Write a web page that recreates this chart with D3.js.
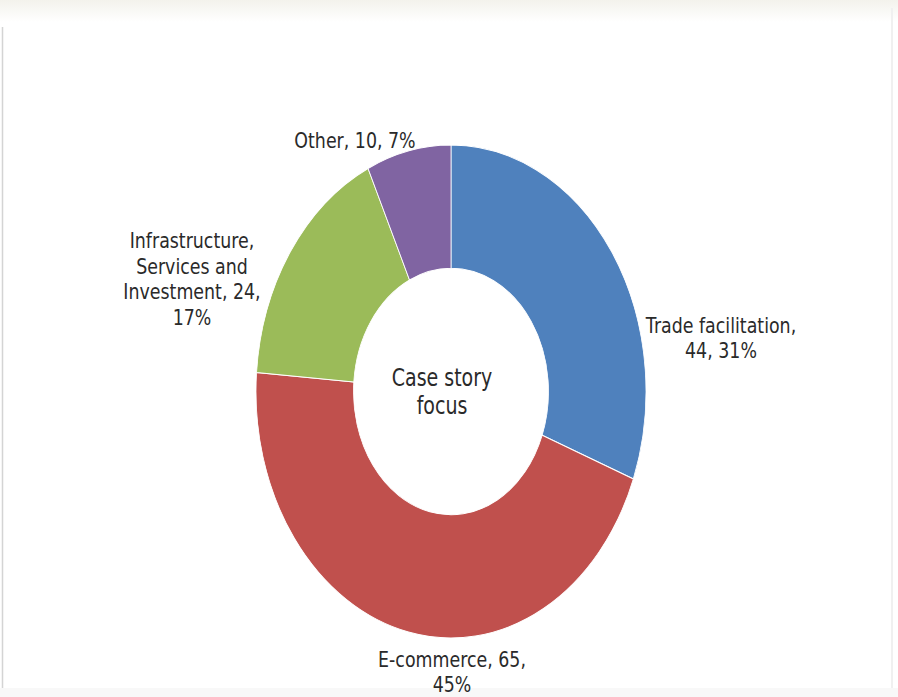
<!DOCTYPE html>
<html>
<head>
<meta charset="utf-8">
<script src="https://cdn.jsdelivr.net/npm/d3@7"></script>
<style>
  html, body { margin: 0; padding: 0; background: #ffffff; }
  svg { display: block; }
  text { font-family: "DejaVu Sans", Verdana, sans-serif; fill: #2a2a2a; }
</style>
</head>
<body>
<svg id="chart" width="898" height="697"></svg>
<script>
// Case story focus by category
const categories = ["Trade facilitation", "E-commerce", "Infrastructure, Services and Investment", "Other"];
const counts = [44, 65, 24, 10];
const percents = ["31%", "45%", "17%", "7%"];
const colors = ["#4f81bd", "#c0504d", "#9bbb59", "#8064a2"];

const W = 898, H = 697;
const svg = d3.select("#chart");

// page frame
svg.append("rect").attr("x", 0).attr("y", 0).attr("width", W).attr("height", H).attr("fill", "#ffffff");
const topGrad = svg.append("defs").append("linearGradient")
  .attr("id", "topfade").attr("x1", 0).attr("y1", 0).attr("x2", 0).attr("y2", 1);
topGrad.append("stop").attr("offset", 0).attr("stop-color", "#f3f2ec");
topGrad.append("stop").attr("offset", 1).attr("stop-color", "#ffffff");
svg.append("rect").attr("x", 0).attr("y", 0).attr("width", W).attr("height", 22).attr("fill", "url(#topfade)");
svg.append("line").attr("x1", 2.5).attr("x2", 2.5).attr("y1", 27).attr("y2", H)
  .attr("stroke", "#d4d4d4").attr("stroke-width", 1.5);
svg.append("line").attr("x1", 892).attr("x2", 892).attr("y1", 8).attr("y2", H)
  .attr("stroke", "#f0f0f0").attr("stroke-width", 2);
svg.append("rect").attr("x", 0).attr("y", 688).attr("width", W).attr("height", 9).attr("fill", "#f8f8f8");

// the whole plot is drawn stretched vertically
const k = 1.264;
const cx = 451, cy = 391.5;
const R = 195, r = R * 0.5;

const plot = svg.append("g").attr("transform", `scale(1,${k})`);

const pie = d3.pie().sort(null).value(d => d)(counts);
const arc = d3.arc().innerRadius(r).outerRadius(R);

plot.append("g")
  .attr("transform", `translate(${cx},${cy / k})`)
  .selectAll("path")
  .data(pie)
  .join("path")
  .attr("d", arc)
  .attr("fill", (d, i) => colors[i])
  .attr("stroke", "#ffffff")
  .attr("stroke-width", 0.8);

// label anchors (screen coordinates of each line's centre)
const labelLayout = [
  { x: 721, y: 325, step: 25.5, lines: i => [categories[i] + ",", `${counts[i]}, ${percents[i]}`] },
  { x: 452, y: 659, step: 25.5, lines: i => [categories[i] + `, ${counts[i]},`, percents[i]] },
  { x: 192, y: 240, step: 25.7, lines: i => ["Infrastructure,", "Services and", `Investment, ${counts[i]},`, percents[i]] },
  { x: 355, y: 140, step: 26, lines: i => [`${categories[i]}, ${counts[i]}, ${percents[i]}`] }
];

const fs = 17.4;
labelLayout.forEach((L, i) => {
  const t = plot.append("text")
    .attr("text-anchor", "middle")
    .style("font-size", fs + "px");
  L.lines(i).forEach((s, j) => {
    t.append("tspan")
      .attr("x", L.x)
      .attr("y", (L.y + j * L.step) / k)
      .attr("dy", "0.36em")
      .text(s);
  });
});

// centre title
const title = plot.append("text")
  .attr("text-anchor", "middle")
  .style("font-size", "19px");
["Case story", "focus"].forEach((s, j) => {
  title.append("tspan")
    .attr("x", 442)
    .attr("y", (377 + j * 28) / k)
    .attr("dy", "0.36em")
    .text(s);
});
</script>
</body>
</html>
